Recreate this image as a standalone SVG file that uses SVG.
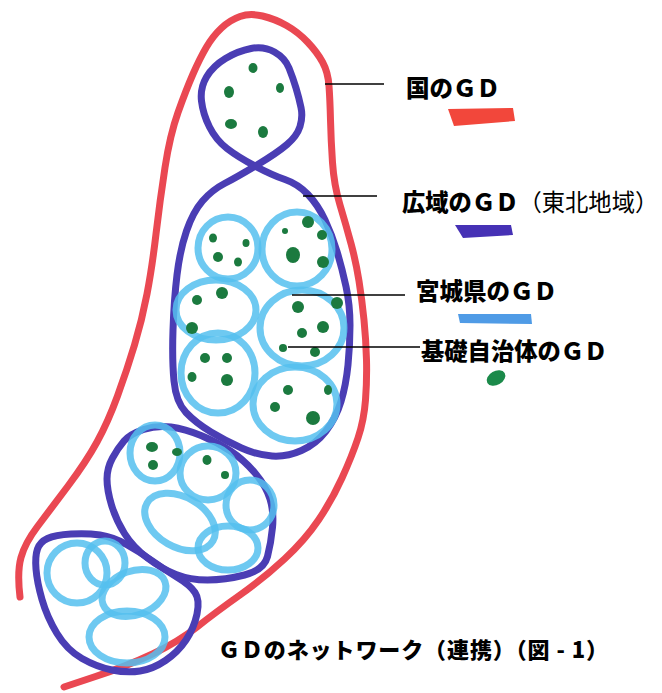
<svg xmlns="http://www.w3.org/2000/svg" width="662" height="693" viewBox="0 0 662 693">
<style>
.red{fill:none;stroke:#ea4852;stroke-width:7;stroke-linecap:round;stroke-linejoin:round}
.dblue{fill:none;stroke:#4a3db4;stroke-width:7;stroke-linejoin:round}
.lblue{fill:none;stroke:#55c0ef;stroke-width:7;opacity:0.85}
.dot{fill:#1b7a3f}
.lead{stroke:#000;stroke-width:1.6}
.lbl{font-family:"Noto Sans CJK JP","Noto Sans",sans-serif;font-weight:900;fill:#000}
.thin{font-weight:400}
</style>
<rect width="662" height="693" fill="#fff"/>
<g id="national-gd">
<path class="red" d="M20,597 Q17,572 21,557.5 Q25,543 37.5,526.5 Q50,510 68,486 Q86,462 97,442 Q108,422 117.5,396 Q127,370 134.5,345 Q142,320 147,294 Q152,268 156,234 Q160,200 165,167.5 Q170,135 178,112.5 Q186,90 193,74 Q200,58 206.5,47 Q213,36 221.5,28 Q230,20 240,16.5 Q250,13 262.5,16 Q275,19 286.5,25.5 Q298,32 307.5,42 Q317,52 322.5,62 Q328,72 329,86 Q330,100 330.5,120 Q331,140 332.5,162.5 Q334,185 340,205 Q346,225 351,243.5 Q356,262 359,281 Q362,300 364,320 Q366,340 366.5,360 Q367,380 365.5,400 Q364,420 358,438 Q352,456 342,478 Q332,500 318.5,520 Q305,540 284.5,559 Q264,578 240,595 Q216,612 197,627 Q178,642 152.5,654 Q127,666 95.5,676.5 L64,687"/>
</g>
<g id="regional-gd">
<path class="dblue" d="M257,165 Q277,153 287,144.5 Q297,136 300,126.5 Q303,117 301,107.5 Q299,98 296,88 Q293,78 289,68 Q285,58 274.5,52 Q264,46 251,48.5 Q238,51 225.5,58.5 Q213,66 206.5,77 Q200,88 201.5,101 Q203,114 209.5,127 Q216,140 227,148.5 Q238,157 255,166 Q272,175 285,179.5 Q298,184 308,194.5 Q318,205 325,220 Q332,235 337,251.5 Q342,268 346,286.5 Q350,305 350,325 Q350,345 348,365 Q346,385 341,401.5 Q336,418 326,431 Q316,444 301.5,450.5 Q287,457 272,456 Q257,455 241.5,448 Q226,441 211,432 Q196,423 186,412.5 Q176,402 174,381 Q172,360 173,330 Q174,300 177,275 Q180,250 186.5,231 Q193,212 202.5,201 Q212,190 224.5,183.5 Q237,177 257,165 Z"/>
<path class="dblue" d="M124,441 Q130,434 143.5,429.5 Q157,425 171,427 Q185,429 201,435.5 Q217,442 230.5,451 Q244,460 255,473 Q266,486 270,499 Q274,512 272.5,527.5 Q271,543 267.5,556.5 Q264,570 244.5,575 Q225,580 207.5,580 Q190,580 176,574.5 Q162,569 147.5,558 Q133,547 124.5,533.5 Q116,520 111.5,505 Q107,490 107,479 Q107,468 112.5,458 Q118,448 124,441 Z"/>
<path class="dblue" d="M47.5,538.5 Q55,535 71,534 Q87,533 100,535 Q113,537 126.5,544.5 Q140,552 152.5,561 Q165,570 177.5,577.5 Q190,585 195,592.5 Q200,600 197,614 Q194,628 186,640 Q178,652 165.5,660.5 Q153,669 140,671 Q127,673 112,670 Q97,667 82,658.5 Q67,650 57,633.5 Q47,617 42,599.5 Q37,582 36,569 Q35,556 37.5,549 Q40,542 47.5,538.5 Z"/>
</g>
<g id="prefecture-gd">
<ellipse class="lblue" cx="228" cy="248" rx="30" ry="31"/>
<ellipse class="lblue" cx="297" cy="249" rx="35" ry="37"/>
<ellipse class="lblue" cx="216" cy="310" rx="40" ry="30"/>
<ellipse class="lblue" cx="302" cy="328" rx="42" ry="38"/>
<ellipse class="lblue" cx="218" cy="373" rx="37" ry="40"/>
<ellipse class="lblue" cx="295" cy="404" rx="42" ry="37"/>
<ellipse class="lblue" cx="155" cy="453" rx="25" ry="28"/>
<ellipse class="lblue" cx="208" cy="473" rx="28" ry="27"/>
<ellipse class="lblue" cx="180" cy="522" rx="38" ry="25" transform="rotate(30 180 522)"/>
<ellipse class="lblue" cx="250" cy="505" rx="24" ry="25"/>
<ellipse class="lblue" cx="228" cy="548" rx="30" ry="22"/>
<ellipse class="lblue" cx="77" cy="573" rx="30" ry="30"/>
<ellipse class="lblue" cx="105" cy="563" rx="20" ry="22"/>
<ellipse class="lblue" cx="134" cy="593" rx="33" ry="22" transform="rotate(-20 134 593)"/>
<ellipse class="lblue" cx="127" cy="637" rx="38" ry="26"/>
</g>
<g id="municipal-gd">
<ellipse class="dot" cx="253" cy="68" rx="4.5" ry="5"/>
<ellipse class="dot" cx="229" cy="92" rx="5" ry="6"/>
<ellipse class="dot" cx="280" cy="88" rx="4" ry="5"/>
<ellipse class="dot" cx="231" cy="124" rx="6" ry="5"/>
<ellipse class="dot" cx="263" cy="132" rx="5" ry="6"/>
<ellipse class="dot" cx="213" cy="238" rx="4" ry="4.5"/>
<ellipse class="dot" cx="246" cy="243" rx="3.5" ry="4"/>
<ellipse class="dot" cx="218" cy="257" rx="5" ry="5"/>
<ellipse class="dot" cx="238" cy="262" rx="4" ry="4.5"/>
<ellipse class="dot" cx="308" cy="222" rx="6" ry="6"/>
<ellipse class="dot" cx="322" cy="235" rx="5" ry="5"/>
<ellipse class="dot" cx="293" cy="255" rx="7" ry="8"/>
<ellipse class="dot" cx="323" cy="262" rx="6" ry="6"/>
<ellipse class="dot" cx="285" cy="231" rx="3" ry="3"/>
<ellipse class="dot" cx="197" cy="300" rx="5" ry="5"/>
<ellipse class="dot" cx="222" cy="293" rx="6" ry="6"/>
<ellipse class="dot" cx="192" cy="328" rx="6" ry="6"/>
<ellipse class="dot" cx="337" cy="303" rx="6" ry="6"/>
<ellipse class="dot" cx="298" cy="307" rx="6" ry="6"/>
<ellipse class="dot" cx="323" cy="327" rx="6" ry="6"/>
<ellipse class="dot" cx="302" cy="333" rx="5" ry="5"/>
<ellipse class="dot" cx="283" cy="348" rx="4" ry="4"/>
<ellipse class="dot" cx="315" cy="352" rx="5" ry="5"/>
<ellipse class="dot" cx="205" cy="358" rx="5" ry="5"/>
<ellipse class="dot" cx="227" cy="358" rx="5" ry="5"/>
<ellipse class="dot" cx="192" cy="377" rx="4.5" ry="5"/>
<ellipse class="dot" cx="227" cy="380" rx="6" ry="6"/>
<ellipse class="dot" cx="288" cy="390" rx="5" ry="5"/>
<ellipse class="dot" cx="328" cy="390" rx="4" ry="5"/>
<ellipse class="dot" cx="275" cy="407" rx="5" ry="5"/>
<ellipse class="dot" cx="313" cy="418" rx="7" ry="7"/>
<ellipse class="dot" cx="152" cy="447" rx="6" ry="5"/>
<ellipse class="dot" cx="153" cy="465" rx="5" ry="5"/>
<ellipse class="dot" cx="177" cy="452" rx="5" ry="4"/>
<ellipse class="dot" cx="207" cy="460" rx="4.5" ry="5"/>
<ellipse class="dot" cx="225" cy="475" rx="4" ry="4"/>
</g>
<g id="connectors">
<line class="lead" x1="325" y1="84" x2="384" y2="84"/>
<line class="lead" x1="303" y1="196" x2="377" y2="196"/>
<line class="lead" x1="292" y1="295" x2="405" y2="295"/>
<line class="lead" x1="288" y1="347" x2="420" y2="347"/>
</g>
<g id="legend-national">
<text class="lbl" x="406" y="97" font-size="23.5">国のＧＤ</text>
<path d="M448,109 L513,108 L515,121 L454,126 Z" fill="#f2473b"/>
</g>
<g id="legend-regional">
<text class="lbl" x="402" y="211" font-size="23.3">広域のＧＤ<tspan class="thin">（東北地域）</tspan></text>
<path d="M455,225 L511,225 L513,235 L463,238 Z" fill="#4631b5"/>
</g>
<g id="legend-prefecture">
<text class="lbl" x="416" y="300" font-size="23.5">宮城県のＧＤ</text>
<path d="M458,314 L531,314 L532,324 L460,323 Z" fill="#4f9be6"/>
</g>
<g id="legend-municipal">
<text class="lbl" x="421" y="360" font-size="23.3">基礎自治体のＧＤ</text>
<ellipse cx="496" cy="378" rx="10" ry="7" transform="rotate(-30 496 378)" fill="#1b8a4a"/>
</g>
<g id="caption">
<text class="lbl" x="218" y="658" font-size="22" textLength="390" lengthAdjust="spacing">ＧＤのネットワーク（連携）（図 - 1）</text>
</g>
</svg>
